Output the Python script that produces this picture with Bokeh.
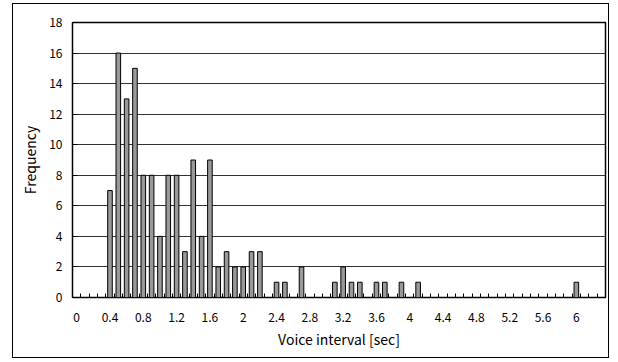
from bokeh.plotting import figure
from bokeh.models import ColumnDataSource, FixedTicker, Range1d
from bokeh.embed import file_html
from bokeh.resources import INLINE

# Histogram bins (sec) and frequencies
intervals = [0.0, 0.1, 0.2, 0.3, 0.4, 0.5, 0.6, 0.7, 0.8, 0.9,
             1.0, 1.1, 1.2, 1.3, 1.4, 1.5, 1.6, 1.7, 1.8, 1.9,
             2.0, 2.1, 2.2, 2.3, 2.4, 2.5, 2.6, 2.7, 2.8, 2.9,
             3.0, 3.1, 3.2, 3.3, 3.4, 3.5, 3.6, 3.7, 3.8, 3.9,
             4.0, 4.1, 4.2, 4.3, 4.4, 4.5, 4.6, 4.7, 4.8, 4.9,
             5.0, 5.1, 5.2, 5.3, 5.4, 5.5, 5.6, 5.7, 5.8, 5.9,
             6.0, 6.1, 6.2, 6.3]
frequency = [0, 0, 0, 0, 7, 16, 13, 15, 8, 8,
             4, 8, 8, 3, 9, 4, 9, 2, 3, 2,
             2, 3, 3, 0, 1, 1, 0, 2, 0, 0,
             0, 1, 2, 1, 1, 0, 1, 1, 0, 1,
             0, 1, 0, 0, 0, 0, 0, 0, 0, 0,
             0, 0, 0, 0, 0, 0, 0, 0, 0, 0,
             1, 0, 0, 0]
label_every = 4
y_ticks = [0, 2, 4, 6, 8, 10, 12, 14, 16, 18]

n = len(intervals)
pos = [i + 0.5 for i in range(n)]
src = ColumnDataSource(dict(x=pos, top=frequency))

FONT = "Noto Sans CJK JP"

p = figure(width=597, height=355, output_backend="svg", toolbar_location=None,
           x_range=Range1d(0, n), y_range=Range1d(0, 18),
           min_border_left=59, min_border_right=5, min_border_top=18, min_border_bottom=62)
p.styles = {"border": "1px solid black", "margin-left": "12px", "margin-top": "3px"}

p.vbar(x="x", top="top", width=0.55, source=src, fill_color="#999999",
       line_color="black", line_width=1)

# axes
major = [pos[i] for i in range(0, n, label_every)]
p.xaxis.ticker = FixedTicker(ticks=major, minor_ticks=list(range(0, n + 1)))
p.xaxis.major_label_overrides = {pos[i]: f"{intervals[i]:g}" for i in range(0, n, label_every)}
p.xaxis.major_tick_in = 0
p.xaxis.major_tick_out = 0
p.xaxis.minor_tick_in = 4
p.xaxis.minor_tick_out = 0
p.xaxis.minor_tick_line_color = "black"
p.xaxis.axis_label = "Voice interval [sec]"
p.xaxis.major_label_standoff = 15
p.xaxis.axis_label_standoff = 4

p.yaxis.ticker = FixedTicker(ticks=y_ticks)
p.yaxis.major_tick_in = 5
p.yaxis.major_tick_out = 0
p.yaxis.minor_tick_line_color = None
p.yaxis.axis_label = "Frequency"
p.yaxis.major_label_standoff = 10
p.yaxis.axis_label_standoff = 6

for ax in (p.xaxis[0], p.yaxis[0]):
    ax.axis_line_color = None
    ax.major_tick_line_color = "black"
    ax.major_label_text_font = FONT
    ax.major_label_text_font_size = "12px"
    ax.major_label_text_color = "black"
    ax.axis_label_text_font = FONT
    ax.axis_label_text_font_size = "14px"
    ax.axis_label_text_font_style = "normal"
    ax.axis_label_text_color = "black"

p.xgrid.grid_line_color = None
p.ygrid.ticker = FixedTicker(ticks=y_ticks)
p.ygrid.grid_line_color = "#333333"
p.ygrid.grid_line_width = 1

p.outline_line_color = "black"
p.outline_line_width = 1.5
p.background_fill_color = "white"
p.border_fill_color = "white"

open("out.html", "w").write(file_html(p, INLINE))
